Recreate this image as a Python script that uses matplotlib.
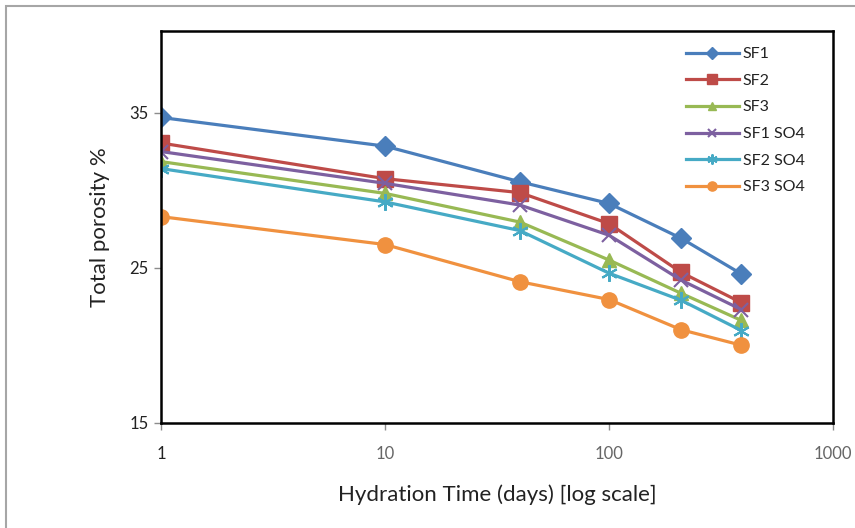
import matplotlib
matplotlib.use("Agg")
import matplotlib.pyplot as plt
from matplotlib.patches import Rectangle

plt.rcParams['font.family'] = ['Lato', 'DejaVu Sans']

# Hydration time (days) and total porosity (%) per mix
days = [1, 10, 40, 100, 210, 390]
sf1 = [34.7, 32.85, 30.55, 29.15, 26.9, 24.6]
sf2 = [33.05, 30.75, 29.85, 27.85, 24.7, 22.75]
sf3 = [31.85, 29.8, 27.95, 25.5, 23.35, 21.6]
sf1_so4 = [32.5, 30.45, 29.05, 27.1, 24.2, 22.3]
sf2_so4 = [31.4, 29.25, 27.4, 24.65, 22.9, 20.95]
sf3_so4 = [28.3, 26.5, 24.1, 22.95, 21.0, 20.0]

series = [
    ("SF1", sf1, "#4A7EBB", "D", 10),
    ("SF2", sf2, "#BE4B48", "s", 11),
    ("SF3", sf3, "#98B954", "^", 10),
    ("SF1 SO4", sf1_so4, "#7D60A0", "x", 10),
    ("SF2 SO4", sf2_so4, "#46AAC5", (6, 2, 0), 12),
    ("SF3 SO4", sf3_so4, "#F0913F", "o", 11),
]

x_ticks = [1, 10, 100, 1000]
y_ticks = [15, 25, 35]

fig = plt.figure(figsize=(8.55, 5.28), dpi=100)
ax = fig.add_axes([161 / 855, 1 - 422.7 / 528, 672 / 855, 392 / 528])

for name, vals, color, marker, ms in series:
    mew = 1.5 if marker in ("x", (6, 2, 0)) else 1.0
    ax.plot(days, vals, color=color, lw=2.3, marker=marker, markersize=ms,
            markeredgewidth=mew, markeredgecolor=color, markerfacecolor=color,
            label=name)

ax.set_xscale('log')
ax.set_xlim(1, 1000)
ax.set_ylim(15, 40.3)
ax.set_xticks(x_ticks)
ax.set_xticklabels([str(t) for t in x_ticks])
ax.minorticks_off()
ax.set_yticks(y_ticks)
ax.tick_params(axis='both', which='major', length=5, width=1, color='#8c8c8c',
               labelsize=12, labelcolor='#222222')
ax.tick_params(axis='x', pad=12)
ax.tick_params(axis='y', pad=4)
for lbl in ax.get_xticklabels()[1:]:
    lbl.set_color('#666666')

for sp in ax.spines.values():
    sp.set_linewidth(1.8)
    sp.set_color('black')

ax.set_ylabel("Total porosity %", fontsize=16, color='#222222', labelpad=14)
ax.set_xlabel("Hydration Time (days) [log scale]", fontsize=16, color='#222222',
              labelpad=16)

leg = ax.legend(loc='upper left', bbox_to_anchor=(686 / 855, 1 - 47 / 528),
                bbox_transform=fig.transFigure, frameon=False, fontsize=11.5,
                handlelength=3.3, handletextpad=0.25, labelspacing=0.78,
                markerscale=0.6, borderaxespad=0, borderpad=0)
for t in leg.get_texts():
    t.set_color('#222222')

# outer chart-area border
fig.patches.append(Rectangle((6 / 855, -0.1), 1.2, 1 - 6 / 528 + 0.1,
                             transform=fig.transFigure, fill=False,
                             edgecolor='#a6a6a6', lw=1.5))

fig.savefig("out.png", dpi=100)
